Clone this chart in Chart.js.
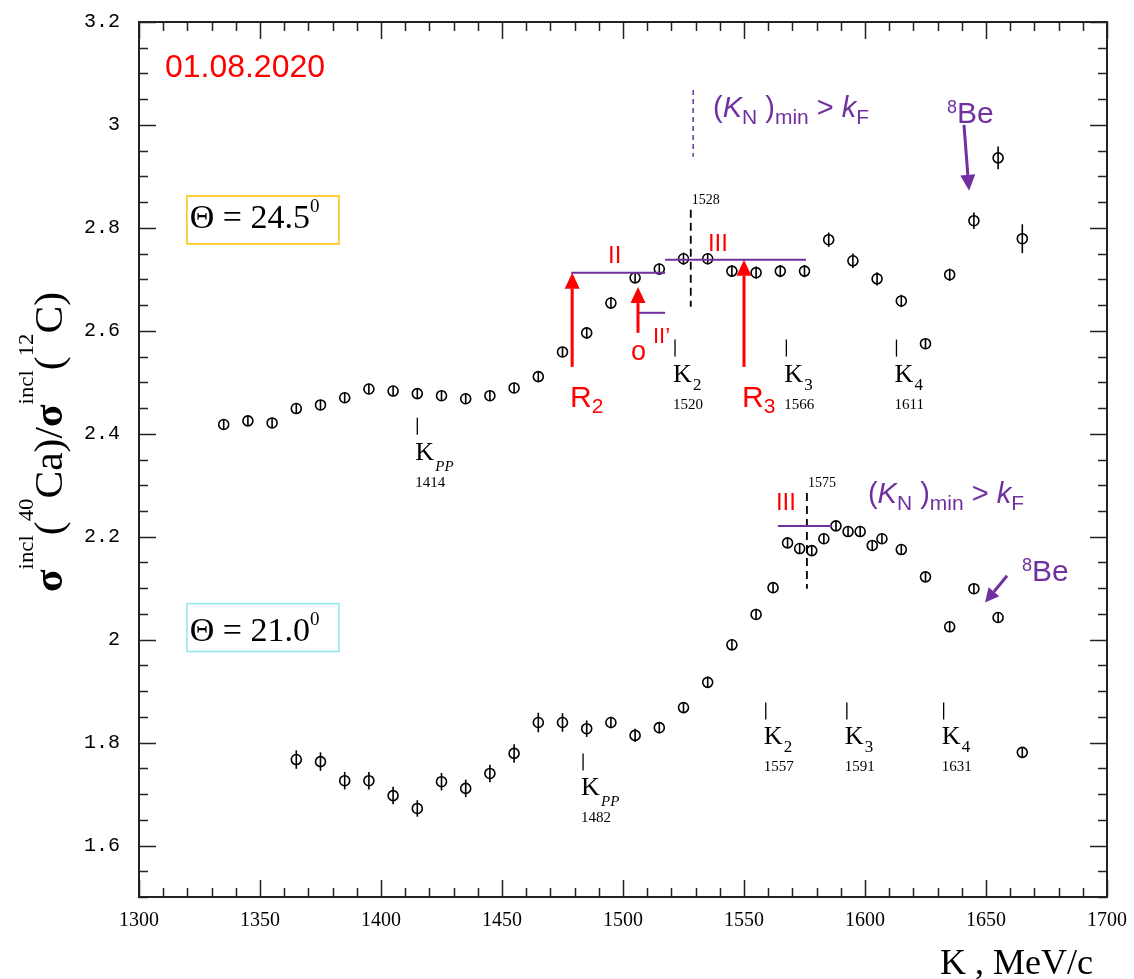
<!DOCTYPE html>
<html>
<head>
<meta charset="utf-8">
<title>sigma incl 40Ca / 12C</title>
<script src="https://cdn.jsdelivr.net/npm/chart.js@4.4.1/dist/chart.umd.min.js"></script>
<style>
  html, body { margin: 0; padding: 0; background: #fff; }
  canvas { display: block; }
</style>
</head>
<body>
<canvas id="ratioChart" width="1134" height="979"></canvas>
<script>
// Theta = 24.5 deg
const kUpper = [1335, 1345, 1355, 1365, 1375, 1385, 1395, 1405, 1415, 1425,
                1435, 1445, 1455, 1465, 1475, 1485, 1495, 1505, 1515, 1525,
                1535, 1545, 1555, 1565, 1575, 1585, 1595, 1605, 1615, 1625,
                1635, 1645, 1655, 1665];
const ratioUpper = [2.418, 2.425, 2.421, 2.449, 2.456, 2.470, 2.487, 2.483, 2.478, 2.474,
                    2.468, 2.474, 2.489, 2.511, 2.559, 2.596, 2.654, 2.703, 2.720, 2.740,
                    2.740, 2.716, 2.713, 2.716, 2.716, 2.777, 2.736, 2.701, 2.658, 2.575,
                    2.709, 2.814, 2.936, 2.779];
const errUpper = [0.010, 0.010, 0.010, 0.010, 0.010, 0.010, 0.010, 0.010, 0.010, 0.010,
                  0.010, 0.010, 0.010, 0.010, 0.010, 0.011, 0.011, 0.011, 0.011, 0.012,
                  0.011, 0.011, 0.012, 0.012, 0.012, 0.014, 0.014, 0.013, 0.012, 0.010,
                  0.012, 0.016, 0.022, 0.028];

// Theta = 21.0 deg
const kLower = [1365, 1375, 1385, 1395, 1405, 1415, 1425, 1435, 1445, 1455,
                1465, 1475, 1485, 1495, 1505, 1515, 1525, 1535, 1545, 1555,
                1562, 1568, 1573, 1578, 1583, 1588, 1593, 1598, 1603, 1607,
                1615, 1625, 1635, 1645, 1655, 1665];
const ratioLower = [1.767, 1.763, 1.726, 1.726, 1.697, 1.672, 1.724, 1.711, 1.740, 1.779,
                    1.839, 1.839, 1.827, 1.839, 1.814, 1.829, 1.868, 1.917, 1.990, 2.049,
                    2.101, 2.188, 2.177, 2.173, 2.196, 2.221, 2.210, 2.210, 2.183, 2.196,
                    2.175, 2.122, 2.025, 2.099, 2.043, 1.781];
const errLower = [0.018, 0.018, 0.017, 0.017, 0.017, 0.016, 0.017, 0.017, 0.017, 0.018,
                  0.019, 0.018, 0.016, 0.011, 0.013, 0.011, 0.010, 0.011, 0.011, 0.011,
                  0.010, 0.010, 0.010, 0.010, 0.010, 0.010, 0.010, 0.010, 0.010, 0.010,
                  0.010, 0.010, 0.010, 0.010, 0.010, 0.010];

const xTicks = [1300, 1350, 1400, 1450, 1500, 1550, 1600, 1650, 1700];
const yTicks = [1.6, 1.8, 2, 2.2, 2.4, 2.6, 2.8, 3, 3.2];

// threshold marks K_pp, K_2.. (position on K axis, top of the small tick)
const kMarks = [
  { k: 1415, y: 2.431, sub: 'PP', val: '1414' },
  { k: 1521.5, y: 2.583, sub: '2', val: '1520' },
  { k: 1567.5, y: 2.583, sub: '3', val: '1566' },
  { k: 1613, y: 2.583, sub: '4', val: '1611' },
  { k: 1483.5, y: 1.779, sub: 'PP', val: '1482' },
  { k: 1559, y: 1.878, sub: '2', val: '1557' },
  { k: 1592.5, y: 1.878, sub: '3', val: '1591' },
  { k: 1632.5, y: 1.878, sub: '4', val: '1631' }
];
const dashedMarks = [
  { k: 1528, top: 2.835, bottom: 2.647, label: '1528' },
  { k: 1576, top: 2.285, bottom: 2.099, label: '1575' }
];
const levelLines = [
  { from: 1478.6, to: 1517.4, y: 2.713 },
  { from: 1517.4, to: 1575.6, y: 2.738 },
  { from: 1506.0, to: 1517.4, y: 2.635 },
  { from: 1564.0, to: 1586.4, y: 2.221 }
];
const redArrows = [
  { k: 1479.0, from: 2.530, to: 2.713 },
  { k: 1506.2, from: 2.596, to: 2.685 },
  { k: 1550.0, from: 2.530, to: 2.738 }
];

const PURPLE = '#7030a0';
const RED = '#ff0000';
const SANS = '"Liberation Sans", Arial, sans-serif';
const SERIF = '"Liberation Serif", "Times New Roman", serif';

function rich(ctx, x, y, parts) {
  let cx = x;
  parts.forEach(p => {
    ctx.font = p.font;
    ctx.fillText(p.t, cx, y + (p.dy || 0));
    cx += ctx.measureText(p.t).width + (p.gap || 0);
  });
}

function arrow(ctx, x1, y1, x2, y2, color, width, headLen, headW) {
  const a = Math.atan2(y2 - y1, x2 - x1);
  const bx = x2 - headLen * Math.cos(a), by = y2 - headLen * Math.sin(a);
  ctx.strokeStyle = color;
  ctx.fillStyle = color;
  ctx.lineWidth = width;
  ctx.beginPath();
  ctx.moveTo(x1, y1);
  ctx.lineTo(bx, by);
  ctx.stroke();
  ctx.beginPath();
  ctx.moveTo(x2, y2);
  ctx.lineTo(bx + headW / 2 * Math.sin(a), by - headW / 2 * Math.cos(a));
  ctx.lineTo(bx - headW / 2 * Math.sin(a), by + headW / 2 * Math.cos(a));
  ctx.closePath();
  ctx.fill();
}

const errorBars = {
  id: 'errorBars',
  afterDatasetsDraw(chart) {
    const { ctx, scales: { x, y } } = chart;
    ctx.save();
    ctx.strokeStyle = '#000';
    ctx.lineWidth = 1.6;
    chart.data.datasets.forEach(ds => {
      ds.data.forEach(p => {
        const px = x.getPixelForValue(p.x);
        ctx.beginPath();
        ctx.moveTo(px, y.getPixelForValue(p.y - p.err));
        ctx.lineTo(px, y.getPixelForValue(p.y + p.err));
        ctx.stroke();
      });
    });
    ctx.restore();
  }
};

// ROOT-like frame with inward ticks on all four sides
const rootFrame = {
  id: 'rootFrame',
  afterDraw(chart) {
    const { ctx, chartArea: a, scales: { x, y } } = chart;
    ctx.save();
    ctx.strokeStyle = '#222';
    ctx.lineWidth = 1.5;
    ctx.beginPath();
    for (let v = 1300; v <= 1700; v += 10) {
      const px = Math.round(x.getPixelForValue(v)) + 0.5;
      const len = v % 50 === 0 ? 17 : 9;
      ctx.moveTo(px, a.bottom); ctx.lineTo(px, a.bottom - len);
      ctx.moveTo(px, a.top); ctx.lineTo(px, a.top + len);
    }
    for (let i = 0; i <= 34; i++) {
      const py = Math.round(y.getPixelForValue(1.5 + i * 0.05)) + 0.5;
      const len = i % 4 === 2 ? 17 : 9;
      ctx.moveTo(a.left, py); ctx.lineTo(a.left + len, py);
      ctx.moveTo(a.right, py); ctx.lineTo(a.right - len, py);
    }
    ctx.stroke();
    ctx.lineWidth = 2;
    ctx.strokeRect(a.left, a.top, a.right - a.left, a.bottom - a.top);

    // x title
    ctx.fillStyle = '#000';
    ctx.textAlign = 'right';
    ctx.textBaseline = 'alphabetic';
    ctx.font = `36px ${SERIF}`;
    ctx.fillText('K , MeV/c', a.right - 14, a.bottom + 77);

    // y title, rotated
    const parts = [
      { t: '\u03c3', font: `bold 40px ${SERIF}`, dy: 0 },
      { t: 'incl', font: `22px ${SERIF}`, dy: -29 },
      { t: '(', font: `40px ${SERIF}`, dy: 0 },
      { t: '40', font: `22px ${SERIF}`, dy: -29 },
      { t: 'Ca)/', font: `40px ${SERIF}`, dy: 0 },
      { t: '\u03c3', font: `bold 40px ${SERIF}`, dy: 0 },
      { t: 'incl', font: `22px ${SERIF}`, dy: -29 },
      { t: '(', font: `40px ${SERIF}`, dy: 0 },
      { t: '12', font: `22px ${SERIF}`, dy: -29 },
      { t: 'C)', font: `40px ${SERIF}`, dy: 0 }
    ];
    let total = 0;
    parts.forEach(p => { ctx.font = p.font; total += ctx.measureText(p.t).width; });
    ctx.translate(62, 592);
    ctx.rotate(-Math.PI / 2);
    ctx.scale(300 / total, 1);
    ctx.textAlign = 'left';
    rich(ctx, 0, 0, parts);
    ctx.restore();
  }
};

const annotations = {
  id: 'annotations',
  afterDraw(chart) {
    const { ctx, scales: { x, y } } = chart;
    const X = v => x.getPixelForValue(v);
    const Y = v => y.getPixelForValue(v);
    ctx.save();
    ctx.textAlign = 'left';
    ctx.textBaseline = 'alphabetic';

    // date stamp
    ctx.fillStyle = RED;
    ctx.font = `32px ${SANS}`;
    ctx.fillText('01.08.2020', X(1310.7), Y(3.093));

    // angle boxes
    [[2.862, 2.769, '24.5', '#ffc000', 2.800], [2.070, 1.977, '21.0', '#8ee6ee', 1.998]].forEach(b => {
      ctx.strokeStyle = b[3];
      ctx.lineWidth = 1.5;
      ctx.strokeRect(X(1319.8), Y(b[0]), X(1382.6) - X(1319.8), Y(b[1]) - Y(b[0]));
      ctx.fillStyle = '#000';
      rich(ctx, X(1321), Y(b[4]), [
        { t: '\u0398 = ' + b[2], font: `34px ${SERIF}` },
        { t: '0', font: `19px ${SERIF}`, dy: -16 }
      ]);
    });

    // K thresholds
    ctx.strokeStyle = '#000';
    ctx.fillStyle = '#000';
    ctx.lineWidth = 1.3;
    kMarks.forEach(m => {
      const px = X(m.k), py = Y(m.y);
      ctx.beginPath();
      ctx.moveTo(px, py); ctx.lineTo(px, py + 17);
      ctx.stroke();
      ctx.font = `26px ${SERIF}`;
      ctx.fillText('K', px - 2, py + 42);
      if (m.sub === 'PP') {
        ctx.font = `italic 15px ${SERIF}`;
        ctx.fillText('PP', px + 18, py + 53);
      } else {
        ctx.font = `17px ${SERIF}`;
        ctx.fillText(m.sub, px + 18, py + 50);
      }
      ctx.font = `15px ${SERIF}`;
      ctx.fillText(m.val, px - 2, py + 69);
    });

    // dashed black markers
    ctx.setLineDash([8, 5]);
    ctx.lineWidth = 1.8;
    dashedMarks.forEach(d => {
      ctx.beginPath();
      ctx.moveTo(X(d.k), Y(d.top)); ctx.lineTo(X(d.k), Y(d.bottom));
      ctx.stroke();
      ctx.font = `14px ${SERIF}`;
      ctx.fillText(d.label, X(d.k) + 1, Y(d.top) - 6);
    });

    // purple dashed
    ctx.strokeStyle = PURPLE;
    ctx.setLineDash([5, 4]);
    ctx.lineWidth = 1.5;
    ctx.beginPath();
    ctx.moveTo(X(1529), Y(3.068)); ctx.lineTo(X(1529), Y(2.938));
    ctx.stroke();
    ctx.setLineDash([]);

    // level lines
    ctx.lineWidth = 2;
    levelLines.forEach(l => {
      ctx.beginPath();
      ctx.moveTo(X(l.from), Y(l.y)); ctx.lineTo(X(l.to), Y(l.y));
      ctx.stroke();
    });

    // red arrows and labels
    redArrows.forEach(r => arrow(ctx, X(r.k), Y(r.from), X(r.k), Y(r.to), RED, 3, 16, 15));
    ctx.fillStyle = RED;
    rich(ctx, X(1478.1), Y(2.452), [{ t: 'R', font: `30px ${SANS}` }, { t: '2', font: `21px ${SANS}`, dy: 6 }]);
    rich(ctx, X(1549.2), Y(2.452), [{ t: 'R', font: `30px ${SANS}` }, { t: '3', font: `21px ${SANS}`, dy: 6 }]);
    ctx.font = `27px ${SANS}`;
    ctx.fillText('o', X(1503.3), Y(2.544));
    ctx.font = `22px ${SANS}`;
    ctx.fillText('II\u2019', X(1512.4), Y(2.577));
    ctx.font = `24px ${SANS}`;
    ctx.fillText('II', X(1493.8), Y(2.732));
    ctx.fillText('III', X(1535.1), Y(2.755));
    ctx.fillText('III', X(1563.2), Y(2.252));

    // purple labels
    ctx.fillStyle = PURPLE;
    const kn = [
      { t: '(', font: `29px ${SANS}` },
      { t: 'K', font: `italic 29px ${SANS}` },
      { t: 'N', font: `21px ${SANS}`, dy: 7 },
      { t: ' )', font: `29px ${SANS}` },
      { t: 'min', font: `21px ${SANS}`, dy: 7 },
      { t: ' > ', font: `29px ${SANS}` },
      { t: 'k', font: `italic 29px ${SANS}` },
      { t: 'F', font: `21px ${SANS}`, dy: 7 }
    ];
    rich(ctx, X(1537.2), Y(3.0155), kn);
    rich(ctx, X(1601.2), Y(2.266), kn);
    const be = [{ t: '8', font: `18px ${SANS}`, dy: -10 }, { t: 'Be', font: `30px ${SANS}` }];
    rich(ctx, X(1633.9), Y(3.004), be);
    rich(ctx, X(1664.9), Y(2.113), be);
    arrow(ctx, X(1640.9), Y(3.000), X(1643.0), Y(2.872), PURPLE, 3, 16, 15);
    arrow(ctx, X(1658.7), Y(2.124), X(1649.6), Y(2.072), PURPLE, 3, 14, 14);

    ctx.restore();
  }
};

const toPoints = (ks, vs, es) => ks.map((k, i) => ({ x: k, y: vs[i], err: es[i] }));
const marker = {
  showLine: false,
  pointStyle: 'circle',
  pointRadius: 5,
  pointHoverRadius: 5,
  pointBorderWidth: 1.6,
  pointBorderColor: '#000',
  pointBackgroundColor: 'rgba(255,255,255,0)'
};

new Chart(document.getElementById('ratioChart'), {
  type: 'scatter',
  data: {
    datasets: [
      { label: 'Theta = 24.5', data: toPoints(kUpper, ratioUpper, errUpper), ...marker },
      { label: 'Theta = 21.0', data: toPoints(kLower, ratioLower, errLower), ...marker }
    ]
  },
  options: {
    responsive: false,
    devicePixelRatio: 1,
    animation: false,
    events: [],
    layout: { autoPadding: false, padding: { left: 0, top: 22, right: 27, bottom: 0 } },
    plugins: { legend: { display: false }, tooltip: { enabled: false } },
    scales: {
      x: {
        type: 'linear',
        min: 1300,
        max: 1700,
        afterBuildTicks: s => { s.ticks = xTicks.map(v => ({ value: v })); },
        afterFit: s => { s.height = 82; s.paddingLeft = 0; s.paddingRight = 0; },
        grid: { display: false, drawTicks: false },
        border: { display: false },
        ticks: {
          font: { family: SERIF, size: 20 },
          color: '#000',
          padding: 12,
          maxRotation: 0,
          callback: v => String(v)
        }
      },
      y: {
        type: 'linear',
        min: 1.5,
        max: 3.2,
        afterBuildTicks: s => { s.ticks = yTicks.map(v => ({ value: v })); },
        afterFit: s => { s.width = 139; s.paddingTop = 0; s.paddingBottom = 0; },
        grid: { display: false, drawTicks: false },
        border: { display: false },
        ticks: {
          font: { family: '"Liberation Mono", monospace', size: 20 },
          color: '#000',
          padding: 19,
          callback: v => String(+Number(v).toFixed(1))
        }
      }
    }
  },
  plugins: [errorBars, rootFrame, annotations]
});
</script>
</body>
</html>
